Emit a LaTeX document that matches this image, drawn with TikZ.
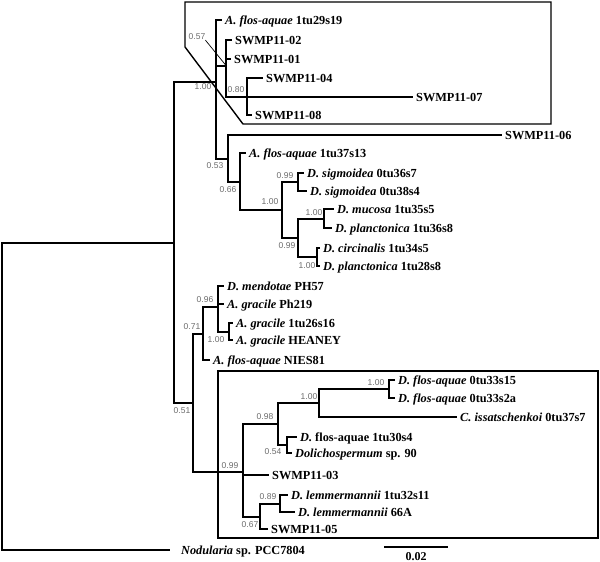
\documentclass[tikz,border=0pt]{standalone}
\usepackage{fontspec}
\setmainfont{Liberation Serif}
\newfontfamily\supfont{Liberation Sans}
\definecolor{supgray}{gray}{0.42}
\begin{document}
\begin{tikzpicture}[x=1pt,y=-1pt,
  br/.style={line width=2pt},
  taxon/.style={anchor=base west, inner sep=0pt, xshift=3pt, yshift=-4pt, font=\fontsize{12.3}{14}\selectfont\bfseries},
  sup/.style={inner sep=0pt, text=supgray, font=\supfont\fontsize{8.5}{10}\selectfont},
  boxline/.style={line width=1.4pt},
  leader/.style={line width=0.7pt}]
\useasboundingbox (0,0) rectangle (600,562);

% ---------- boxes ----------
\draw[boxline] (185,2) -- (551,2) -- (551,124) -- (243,124) -- (185,47) -- cycle;
\draw[boxline] (218,371) rectangle (598,538);

% ---------- coordinates: internal nodes ----------
\coordinate (r0) at (2,396);
\coordinate (nA) at (174,242.5);
\coordinate (nB) at (216,81.5);
\coordinate (nC) at (193,403);
\coordinate (n057) at (226,65.5);
\coordinate (n080) at (247,97);
\coordinate (n053) at (228,158.5);
\coordinate (n066) at (240,181.5);
\coordinate (n100a) at (282,210);
\coordinate (n099a) at (298,182);
\coordinate (n099b) at (298,238);
\coordinate (n100b) at (324,218.5);
\coordinate (n100c) at (317,257);
\coordinate (n071) at (203,333.5);
\coordinate (n096) at (218,307);
\coordinate (n100d) at (229,331.5);
\coordinate (n099c) at (243,472);
\coordinate (n098) at (278,424);
\coordinate (n100e) at (319,403);
\coordinate (n100f) at (389,389);
\coordinate (n054) at (287,445);
\coordinate (n067) at (260,516.5);
\coordinate (n089) at (280,504);

% ---------- coordinates: tips ----------
\coordinate (tN) at (170,550);
\coordinate (t1) at (222,20);
\coordinate (t2) at (232,40);
\coordinate (t3) at (231,59);
\coordinate (t4) at (263,78);
\coordinate (t7) at (413,97);
\coordinate (t8) at (252,115);
\coordinate (t6) at (502,135);
\coordinate (t9) at (246,153);
\coordinate (t10) at (304,173);
\coordinate (t11) at (307,191);
\coordinate (t12) at (334,209);
\coordinate (t13) at (332,228);
\coordinate (t14) at (320,248);
\coordinate (t15) at (320,266);
\coordinate (t16) at (224,286);
\coordinate (t17) at (224,304);
\coordinate (t18) at (233,323);
\coordinate (t19) at (233,340);
\coordinate (t20) at (210,360);
\coordinate (t22) at (395,380);
\coordinate (t23) at (395,398);
\coordinate (t24) at (457,417);
\coordinate (t25) at (297,437);
\coordinate (t26) at (292,453);
\coordinate (t21) at (269,475);
\coordinate (t27) at (288,495);
\coordinate (t28) at (295,512);
\coordinate (t29) at (268,529);

% ---------- branches ----------
\draw[br] (r0) |- (nA);
\draw[br] (r0) |- (tN);
\draw[br] (nA) |- (nB);
\draw[br] (nA) |- (nC);
\draw[br] (nB) |- (t1);
\draw[br] (nB) |- (n057);
\draw[br] (nB) |- (n053);
\draw[br] (n057) |- (t2);
\draw[br] (n057) |- (t3);
\draw[br] (n057) |- (n080);
\draw[br] (n080) |- (t4);
\draw[br] (n080) |- (t7);
\draw[br] (n080) |- (t8);
\draw[br] (n053) |- (t6);
\draw[br] (n053) |- (n066);
\draw[br] (n066) |- (t9);
\draw[br] (n066) |- (n100a);
\draw[br] (n100a) |- (n099a);
\draw[br] (n100a) |- (n099b);
\draw[br] (n099a) |- (t10);
\draw[br] (n099a) |- (t11);
\draw[br] (n099b) |- (n100b);
\draw[br] (n099b) |- (n100c);
\draw[br] (n100b) |- (t12);
\draw[br] (n100b) |- (t13);
\draw[br] (n100c) |- (t14);
\draw[br] (n100c) |- (t15);
\draw[br] (nC) |- (n071);
\draw[br] (nC) |- (n099c);
\draw[br] (n071) |- (n096);
\draw[br] (n071) |- (t20);
\draw[br] (n096) |- (t16);
\draw[br] (n096) |- (t17);
\draw[br] (n096) |- (n100d);
\draw[br] (n100d) |- (t18);
\draw[br] (n100d) |- (t19);
\draw[br] (n099c) |- (n098);
\draw[br] (n099c) |- (t21);
\draw[br] (n099c) |- (n067);
\draw[br] (n098) |- (n100e);
\draw[br] (n098) |- (n054);
\draw[br] (n100e) |- (n100f);
\draw[br] (n100e) |- (t24);
\draw[br] (n100f) |- (t22);
\draw[br] (n100f) |- (t23);
\draw[br] (n054) |- (t25);
\draw[br] (n054) |- (t26);
\draw[br] (n067) |- (n089);
\draw[br] (n067) |- (t29);
\draw[br] (n089) |- (t27);
\draw[br] (n089) |- (t28);

% ---------- taxon labels ----------
\node[taxon] (L1) at (t1) {\textit{A. flos-aquae} 1tu29s19};
\node[taxon] (L2) at (t2) {SWMP11-02};
\node[taxon] (L3) at (t3) {SWMP11-01};
\node[taxon] (L4) at (t4) {SWMP11-04};
\node[taxon] (L7) at (t7) {SWMP11-07};
\node[taxon] (L8) at (t8) {SWMP11-08};
\node[taxon] (L6) at (t6) {SWMP11-06};
\node[taxon] (L9) at (t9) {\textit{A. flos-aquae} 1tu37s13};
\node[taxon] (L10) at (t10) {\textit{D. sigmoidea} 0tu36s7};
\node[taxon] (L11) at (t11) {\textit{D. sigmoidea} 0tu38s4};
\node[taxon] (L12) at (t12) {\textit{D. mucosa} 1tu35s5};
\node[taxon] (L13) at (t13) {\textit{D. planctonica} 1tu36s8};
\node[taxon] (L14) at (t14) {\textit{D. circinalis} 1tu34s5};
\node[taxon] (L15) at (t15) {\textit{D. planctonica} 1tu28s8};
\node[taxon] (L16) at (t16) {\textit{D. mendotae} PH57};
\node[taxon] (L17) at (t17) {\textit{A. gracile} Ph219};
\node[taxon] (L18) at (t18) {\textit{A. gracile} 1tu26s16};
\node[taxon] (L19) at (t19) {\textit{A. gracile} HEANEY};
\node[taxon] (L20) at (t20) {\textit{A. flos-aquae} NIES81};
\node[taxon] (L22) at (t22) {\textit{D. flos-aquae} 0tu33s15};
\node[taxon] (L23) at (t23) {\textit{D. flos-aquae} 0tu33s2a};
\node[taxon] (L24) at (t24) {\textit{C. issatschenkoi} 0tu37s7};
\node[taxon] (L25) at (t25) {\textit{D.} flos-aquae 1tu30s4};
\node[taxon] (L26) at (t26) {\textit{Dolichospermum} sp. 90};
\node[taxon] (L21) at (t21) {SWMP11-03};
\node[taxon] (L27) at (t27) {\textit{D. lemmermannii} 1tu32s11};
\node[taxon] (L28) at (t28) {\textit{D. lemmermannii} 66A};
\node[taxon] (L29) at (t29) {SWMP11-05};
\node[taxon, xshift=8pt] (LN) at (tN) {\textit{Nodularia} sp. PCC7804};

% ---------- support values ----------
\node[sup] (s057) at (197,37) {0.57};
\draw[leader] (s057.south east) -- (n057);
\node[sup] (sB) at (203,87) {1.00};
\node[sup] (s080) at (236,90) {0.80};
\node[sup] (s053) at (215,166) {0.53};
\node[sup] (s066) at (228,190) {0.66};
\node[sup] (s100a) at (270,202) {1.00};
\node[sup] (s099a) at (285,176) {0.99};
\node[sup] (s100b) at (314,213) {1.00};
\node[sup] (s099b) at (287,246) {0.99};
\node[sup] (s100c) at (307,266) {1.00};
\node[sup] (s096) at (205,300) {0.96};
\node[sup] (s071) at (192,327) {0.71};
\node[sup] (s100d) at (216,340) {1.00};
\node[sup] (s051) at (182,411) {0.51};
\node[sup] (s098) at (265,417) {0.98};
\node[sup] (s100e) at (309,397) {1.00};
\node[sup] (s100f) at (376,383) {1.00};
\node[sup] (s054) at (273,452) {0.54};
\node[sup] (s099c) at (230,466) {0.99};
\node[sup] (s089) at (268,497) {0.89};
\node[sup] (s067) at (250,525) {0.67};

% ---------- scale bar ----------
\coordinate (sbL) at (384,547);
\coordinate (sbR) at (448,547);
\draw[br] (sbL) -- (sbR);
\node[font=\fontsize{12}{13}\selectfont\bfseries, inner sep=0pt] (sbT) at (416,557) {0.02};
\end{tikzpicture}
\end{document}
